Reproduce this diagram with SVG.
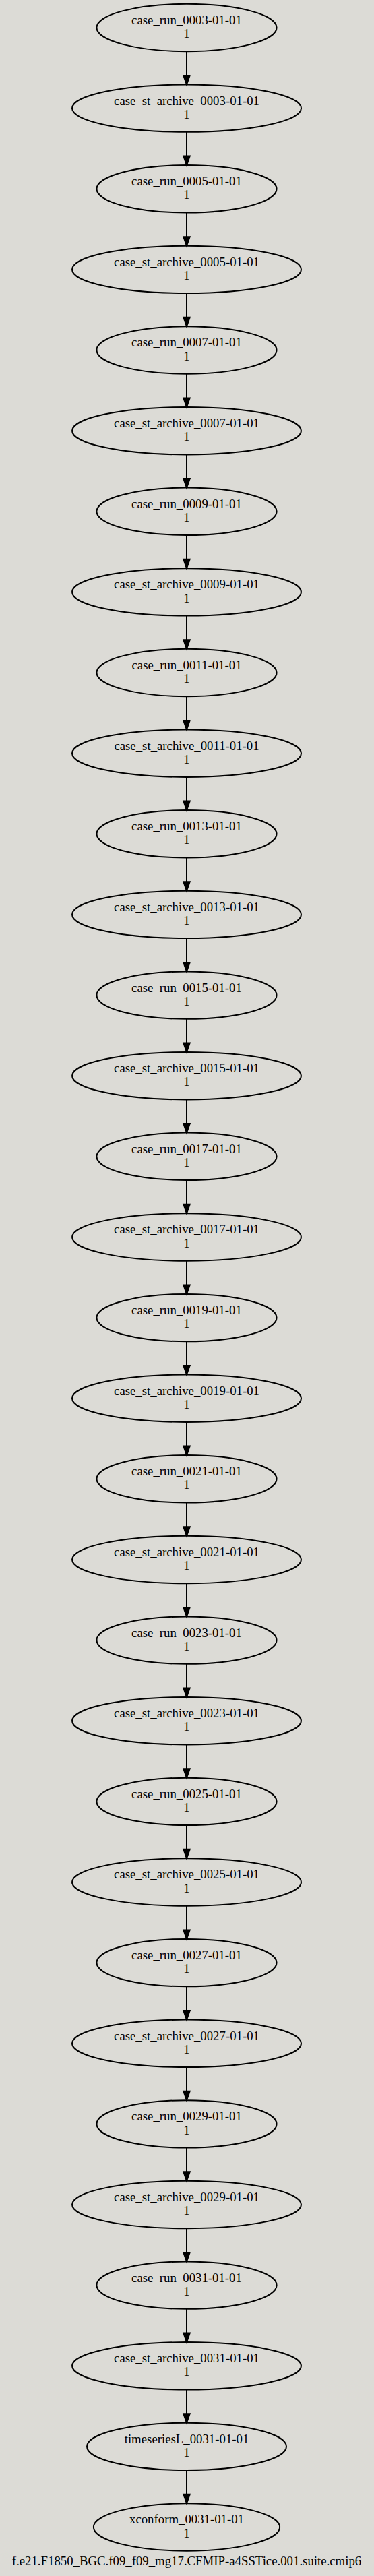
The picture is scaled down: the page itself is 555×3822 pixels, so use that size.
<svg xmlns="http://www.w3.org/2000/svg" width="555" height="3822" viewBox="0 0 555 3822">
<style>
.bg{fill:#dcdbd6}
.n ellipse{fill:none;stroke:#000;stroke-width:2}
.n text,.title{font-family:"Liberation Serif","Times New Roman",serif;font-size:18.8px;fill:#000;text-anchor:middle}
.e path{stroke:#000;stroke-width:2;fill:none;marker-end:url(#ah)}
</style>
<defs>
<marker id="ah" markerUnits="userSpaceOnUse" markerWidth="16" markerHeight="12" refX="0" refY="0" viewBox="-1 -6 16 12" orient="auto" overflow="visible">
<path d="M0,-4.7 L13.5,0 L0,4.7 Z" fill="#000" stroke="#000" stroke-width="2"/>
</marker>
</defs>
<rect class="bg" x="0" y="0" width="555" height="3822"/>
<g id="connectors" class="e">
<path d="M277,76.2 V111.9"/>
<path d="M277,195.8 V231.6"/>
<path d="M277,315.5 V351.2"/>
<path d="M277,435.1 V470.8"/>
<path d="M277,554.7 V590.5"/>
<path d="M277,674.4 V710.1"/>
<path d="M277,794.0 V829.7"/>
<path d="M277,913.6 V949.3"/>
<path d="M277,1033.2 V1069.0"/>
<path d="M277,1152.9 V1188.6"/>
<path d="M277,1272.5 V1308.2"/>
<path d="M277,1392.1 V1427.9"/>
<path d="M277,1511.8 V1547.5"/>
<path d="M277,1631.4 V1667.1"/>
<path d="M277,1751.0 V1786.8"/>
<path d="M277,1870.7 V1906.4"/>
<path d="M277,1990.3 V2026.0"/>
<path d="M277,2109.9 V2145.6"/>
<path d="M277,2229.5 V2265.3"/>
<path d="M277,2349.2 V2384.9"/>
<path d="M277,2468.8 V2504.5"/>
<path d="M277,2588.4 V2624.2"/>
<path d="M277,2708.1 V2743.8"/>
<path d="M277,2827.7 V2863.4"/>
<path d="M277,2947.3 V2983.1"/>
<path d="M277,3067.0 V3102.7"/>
<path d="M277,3186.6 V3222.3"/>
<path d="M277,3306.2 V3341.9"/>
<path d="M277,3425.8 V3461.6"/>
<path d="M277,3545.5 V3581.2"/>
<path d="M277,3665.1 V3700.8"/>
</g>
<g id="case_run_0003" class="n" transform="translate(277,41.0)"><ellipse rx="133.6" ry="35.2"/><text y="-5.1">case_run_0003-01-01</text><text y="15.1">1</text></g>
<g id="case_st_archive_0003" class="n" transform="translate(277,160.6)"><ellipse rx="170" ry="35.2"/><text y="-5.1">case_st_archive_0003-01-01</text><text y="15.1">1</text></g>
<g id="case_run_0005" class="n" transform="translate(277,280.3)"><ellipse rx="133.6" ry="35.2"/><text y="-5.1">case_run_0005-01-01</text><text y="15.1">1</text></g>
<g id="case_st_archive_0005" class="n" transform="translate(277,399.9)"><ellipse rx="170" ry="35.2"/><text y="-5.1">case_st_archive_0005-01-01</text><text y="15.1">1</text></g>
<g id="case_run_0007" class="n" transform="translate(277,519.5)"><ellipse rx="133.6" ry="35.2"/><text y="-5.1">case_run_0007-01-01</text><text y="15.1">1</text></g>
<g id="case_st_archive_0007" class="n" transform="translate(277,639.2)"><ellipse rx="170" ry="35.2"/><text y="-5.1">case_st_archive_0007-01-01</text><text y="15.1">1</text></g>
<g id="case_run_0009" class="n" transform="translate(277,758.8)"><ellipse rx="133.6" ry="35.2"/><text y="-5.1">case_run_0009-01-01</text><text y="15.1">1</text></g>
<g id="case_st_archive_0009" class="n" transform="translate(277,878.4)"><ellipse rx="170" ry="35.2"/><text y="-5.1">case_st_archive_0009-01-01</text><text y="15.1">1</text></g>
<g id="case_run_0011" class="n" transform="translate(277,998.0)"><ellipse rx="133.6" ry="35.2"/><text y="-5.1">case_run_0011-01-01</text><text y="15.1">1</text></g>
<g id="case_st_archive_0011" class="n" transform="translate(277,1117.7)"><ellipse rx="170" ry="35.2"/><text y="-5.1">case_st_archive_0011-01-01</text><text y="15.1">1</text></g>
<g id="case_run_0013" class="n" transform="translate(277,1237.3)"><ellipse rx="133.6" ry="35.2"/><text y="-5.1">case_run_0013-01-01</text><text y="15.1">1</text></g>
<g id="case_st_archive_0013" class="n" transform="translate(277,1356.9)"><ellipse rx="170" ry="35.2"/><text y="-5.1">case_st_archive_0013-01-01</text><text y="15.1">1</text></g>
<g id="case_run_0015" class="n" transform="translate(277,1476.6)"><ellipse rx="133.6" ry="35.2"/><text y="-5.1">case_run_0015-01-01</text><text y="15.1">1</text></g>
<g id="case_st_archive_0015" class="n" transform="translate(277,1596.2)"><ellipse rx="170" ry="35.2"/><text y="-5.1">case_st_archive_0015-01-01</text><text y="15.1">1</text></g>
<g id="case_run_0017" class="n" transform="translate(277,1715.8)"><ellipse rx="133.6" ry="35.2"/><text y="-5.1">case_run_0017-01-01</text><text y="15.1">1</text></g>
<g id="case_st_archive_0017" class="n" transform="translate(277,1835.5)"><ellipse rx="170" ry="35.2"/><text y="-5.1">case_st_archive_0017-01-01</text><text y="15.1">1</text></g>
<g id="case_run_0019" class="n" transform="translate(277,1955.1)"><ellipse rx="133.6" ry="35.2"/><text y="-5.1">case_run_0019-01-01</text><text y="15.1">1</text></g>
<g id="case_st_archive_0019" class="n" transform="translate(277,2074.7)"><ellipse rx="170" ry="35.2"/><text y="-5.1">case_st_archive_0019-01-01</text><text y="15.1">1</text></g>
<g id="case_run_0021" class="n" transform="translate(277,2194.3)"><ellipse rx="133.6" ry="35.2"/><text y="-5.1">case_run_0021-01-01</text><text y="15.1">1</text></g>
<g id="case_st_archive_0021" class="n" transform="translate(277,2314.0)"><ellipse rx="170" ry="35.2"/><text y="-5.1">case_st_archive_0021-01-01</text><text y="15.1">1</text></g>
<g id="case_run_0023" class="n" transform="translate(277,2433.6)"><ellipse rx="133.6" ry="35.2"/><text y="-5.1">case_run_0023-01-01</text><text y="15.1">1</text></g>
<g id="case_st_archive_0023" class="n" transform="translate(277,2553.2)"><ellipse rx="170" ry="35.2"/><text y="-5.1">case_st_archive_0023-01-01</text><text y="15.1">1</text></g>
<g id="case_run_0025" class="n" transform="translate(277,2672.9)"><ellipse rx="133.6" ry="35.2"/><text y="-5.1">case_run_0025-01-01</text><text y="15.1">1</text></g>
<g id="case_st_archive_0025" class="n" transform="translate(277,2792.5)"><ellipse rx="170" ry="35.2"/><text y="-5.1">case_st_archive_0025-01-01</text><text y="15.1">1</text></g>
<g id="case_run_0027" class="n" transform="translate(277,2912.1)"><ellipse rx="133.6" ry="35.2"/><text y="-5.1">case_run_0027-01-01</text><text y="15.1">1</text></g>
<g id="case_st_archive_0027" class="n" transform="translate(277,3031.8)"><ellipse rx="170" ry="35.2"/><text y="-5.1">case_st_archive_0027-01-01</text><text y="15.1">1</text></g>
<g id="case_run_0029" class="n" transform="translate(277,3151.4)"><ellipse rx="133.6" ry="35.2"/><text y="-5.1">case_run_0029-01-01</text><text y="15.1">1</text></g>
<g id="case_st_archive_0029" class="n" transform="translate(277,3271.0)"><ellipse rx="170" ry="35.2"/><text y="-5.1">case_st_archive_0029-01-01</text><text y="15.1">1</text></g>
<g id="case_run_0031" class="n" transform="translate(277,3390.6)"><ellipse rx="133.6" ry="35.2"/><text y="-5.1">case_run_0031-01-01</text><text y="15.1">1</text></g>
<g id="case_st_archive_0031" class="n" transform="translate(277,3510.3)"><ellipse rx="170" ry="35.2"/><text y="-5.1">case_st_archive_0031-01-01</text><text y="15.1">1</text></g>
<g id="timeseriesL_0031" class="n" transform="translate(277,3629.9)"><ellipse rx="148" ry="35.2"/><text y="-5.1">timeseriesL_0031-01-01</text><text y="15.1">1</text></g>
<g id="xconform_0031" class="n" transform="translate(277,3749.5)"><ellipse rx="138.2" ry="35.2"/><text y="-5.1">xconform_0031-01-01</text><text y="15.1">1</text></g>
<text class="title" x="277" y="3806">f.e21.F1850_BGC.f09_f09_mg17.CFMIP-a4SSTice.001.suite.cmip6</text>
</svg>
